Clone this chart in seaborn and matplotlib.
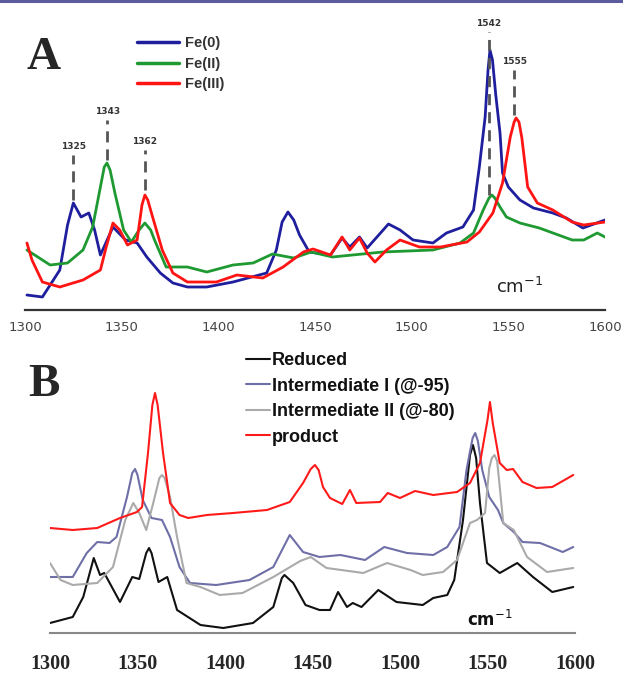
import numpy as np
import pandas as pd
import matplotlib
matplotlib.use("Agg")
import matplotlib.pyplot as plt
import seaborn as sns

# ---------------- Panel A data (wavenumber, intensity a.u.) ----------------
fe0_x = [1301, 1309, 1318, 1322, 1325, 1329, 1333, 1336, 1339, 1345.5, 1352, 1358, 1363, 1370, 1376.5,
         1384, 1394, 1407.6, 1425, 1430, 1433, 1436, 1439, 1442, 1447, 1458, 1464, 1468, 1473, 1477,
         1488, 1494, 1500.7, 1511, 1518, 1526.5, 1532, 1535, 1538, 1539.5, 1540.5, 1541.8, 1543.5, 1545.7, 1547,
         1550, 1556, 1563, 1573, 1580, 1588.6, 1600]
fe0_y = [15, 13, 40, 85, 107, 93, 97, 80, 55, 83, 70, 67, 53, 37, 27,
         23, 23, 28, 37, 60, 88, 98, 90, 75, 58, 55, 72, 63, 73, 62,
         86, 80, 70, 67, 77, 83, 100, 143, 193, 240, 260, 250, 215, 177, 137,
         123, 110, 102, 97, 92, 82, 90]

fe2_x = [1301, 1313, 1322, 1330, 1335, 1339, 1341, 1342.4, 1344, 1346.5, 1351, 1355, 1359, 1362, 1365, 1367, 1373,
         1384, 1394, 1407.6, 1418, 1428, 1439, 1448, 1459, 1485, 1511, 1525, 1532, 1537,
         1540, 1541.5, 1543, 1545.7, 1549, 1556, 1566, 1583, 1589, 1596, 1600]
fe2_y = [60, 45, 47, 60, 83, 123, 143, 147, 140, 117, 80, 68, 80, 87, 80, 70, 43,
         43, 38, 45, 47, 56, 52, 58, 53, 58, 60, 67, 77, 100,
         112, 115, 112, 103, 93, 87, 82, 70, 70, 77, 73]

fe3_x = [1301, 1303.6, 1309, 1318, 1330, 1339, 1342, 1345.5, 1349, 1353, 1358, 1360.5, 1362, 1363.5, 1366,
         1371, 1376.5, 1384, 1399, 1409.6, 1423, 1433.5, 1444, 1449, 1458, 1464, 1468,
         1473, 1477, 1481, 1487, 1494, 1504, 1515, 1528.6, 1535, 1542, 1547, 1551, 1553, 1554, 1555.5,
         1557, 1560, 1565, 1573, 1583, 1589, 1600]
fe3_y = [67, 50, 28, 23, 30, 40, 63, 87, 80, 65, 70, 105, 115, 110, 93,
         60, 37, 28, 28, 35, 32, 43, 58, 61, 55, 73, 60,
         72, 57, 48, 60, 70, 63, 63, 68, 78, 97, 127, 173, 188, 192, 188,
         172, 123, 107, 100, 88, 85, 88]

# peak annotations for panel A
peak_labels = ["1325", "1343", "1362", "1542", "1555"]
peak_pos = [1325, 1342.5, 1362, 1540, 1553]
peak_top = [155, 190, 160, 278, 240]
peak_bot = [110, 150, 120, 115, 195]

# ---------------- Panel B data ----------------
red_x = [1300, 1313, 1327, 1340, 1349.7, 1352.6, 1356, 1358.5, 1360, 1361.5, 1364.6, 1368.6, 1374, 1379,
         1389.7, 1404.6, 1424, 1437, 1444.6, 1449, 1451.4, 1453.5, 1456, 1460, 1467, 1471.4, 1475,
         1488.6, 1493, 1500, 1508.6, 1519, 1532.6, 1540, 1545.7, 1550, 1551.4, 1553,
         1557, 1561, 1564.6, 1570, 1578, 1587, 1599]
red_y = [105, 103, 105, 115, 121, 126, 180, 228, 240, 228, 180, 130, 118, 115,
         118, 120, 123, 131, 150, 164, 168, 163, 146, 135, 129, 143, 130,
         131, 140, 135, 142, 138, 141, 150, 170, 213, 231, 210,
         170, 163, 164, 151, 145, 146, 158]

int1_x = [1300, 1313, 1321, 1327, 1334, 1338, 1344, 1347, 1348.6, 1350, 1353, 1358, 1364, 1368.6, 1374,
          1380, 1395, 1414, 1427.6, 1437, 1444.6, 1454, 1466, 1480, 1491, 1504, 1519, 1527,
          1534, 1538, 1541.5, 1543, 1544.5, 1547, 1551, 1556, 1559, 1565, 1570, 1580, 1593, 1599]
int1_y = [56, 56, 80, 91, 90, 96, 136, 160, 164, 158, 133, 115, 113, 96, 66,
          50, 48, 53, 66, 98, 81, 76, 78, 73, 86, 80, 78, 86,
          106, 163, 195, 200, 192, 163, 136, 123, 110, 101, 91, 90, 81, 86]

int2_x = [1300, 1306, 1313, 1327, 1336, 1343, 1347.6, 1351, 1355, 1359, 1362.5, 1364, 1365.5, 1368.6, 1372.6,
          1378, 1386, 1397, 1410, 1427.6, 1443, 1449, 1458, 1479, 1492.6, 1506, 1513, 1524.6,
          1532.6, 1540, 1544, 1548.6, 1551, 1552.5, 1554, 1555.5, 1557, 1559, 1565, 1572.6, 1584, 1599]
int2_y = [70, 53, 48, 50, 66, 113, 130, 120, 103, 130, 155, 158, 155, 136, 96,
          50, 46, 38, 40, 56, 72, 76, 65, 60, 70, 63, 58, 61,
          73, 110, 113, 120, 165, 175, 178, 172, 146, 110, 103, 76, 61, 65]

red_b_x = [1300, 1313, 1319, 1325, 1328.6, 1331, 1340, 1347, 1351, 1355, 1356.6, 1358, 1362, 1367, 1372.6,
           1386, 1399, 1416, 1427.6, 1432.5, 1434, 1439, 1446, 1454, 1460, 1464.6, 1469.7, 1473,
           1478, 1487.6, 1498, 1513, 1519, 1527, 1531, 1536, 1540, 1541.7, 1543.5, 1545.7, 1549.7, 1557,
           1567, 1576, 1587, 1599]
red_b_y = [10, 16, 36, 75, 58, 60, 31, 56, 54, 80, 85, 80, 51, 56, 23,
           8, 5, 10, 26, 55, 58, 50, 28, 23, 23, 41, 26, 30,
           26, 43, 31, 28, 35, 38, 53, 113, 178, 188, 175, 130, 70, 60,
           70, 56, 41, 46]

ticks = [1300, 1350, 1400, 1450, 1500, 1550, 1600]

sns.set_style("white")

W, H = 623, 676
fig = plt.figure(figsize=(W / 100, H / 100), dpi=100)

def fx(px):
    return px / W

def fy(px):
    return 1 - px / H

# --------- Panel A ----------
axA = fig.add_axes([fx(25), fy(310), fx(605) - fx(25), fy(15) - fy(310)])
dfA = pd.concat([
    pd.DataFrame({"wn": fe0_x, "I": fe0_y, "s": "Fe(0)"}),
    pd.DataFrame({"wn": fe2_x, "I": fe2_y, "s": "Fe(II)"}),
    pd.DataFrame({"wn": fe3_x, "I": fe3_y, "s": "Fe(III)"}),
])
palA = {"Fe(0)": "#1f1f9e", "Fe(II)": "#1f9a32", "Fe(III)": "#ff1414"}
sns.lineplot(data=dfA, x="wn", y="I", hue="s", palette=palA, ax=axA, lw=2.0,
             sort=False, estimator=None)
axA.set_xlim(1300, 1600)
axA.set_ylim(0, 295)
for sp in ["top", "right", "left"]:
    axA.spines[sp].set_visible(False)
axA.spines["bottom"].set_color("#333333")
axA.spines["bottom"].set_linewidth(1.6)
axA.set_yticks([])
axA.set_xticks(ticks)
axA.tick_params(axis="x", direction="out", length=4, width=1.5, color="#333333",
                labelsize=9.5, labelcolor="#444444", pad=4)
axA.set_xlabel("")
axA.set_ylabel("")
for lab, p, t, b in zip(peak_labels, peak_pos, peak_top, peak_bot):
    axA.vlines(p, b, t, colors="#555555", linestyles=(0, (4, 2.5)), lw=2.0)
    axA.text(p, t + 4, lab, ha="center", va="bottom", fontsize=6.5,
             color="#333333", fontweight="bold")
axA.text(1556, 23, "cm$^{-1}$", ha="center", va="center", fontsize=13, color="#222222")
hA, lA = axA.get_legend_handles_labels()
legA = axA.legend(hA, lA, loc="upper left", bbox_to_anchor=(fx(124), fy(23)),
                  bbox_transform=fig.transFigure, frameon=False,
                  prop={"family": "Liberation Sans", "weight": "bold", "size": 10.5},
                  handlelength=2.9, handletextpad=0.4, labelspacing=0.45)
for t in legA.get_texts():
    t.set_color("#333333")
for h in legA.get_lines():
    h.set_linewidth(2.5)

# --------- Panel B ----------
axB = fig.add_axes([fx(50), fy(633), fx(575) - fx(50), fy(345) - fy(633)])
dfB = pd.concat([
    pd.DataFrame({"wn": red_b_x, "I": red_b_y, "s": "Reduced"}),
    pd.DataFrame({"wn": int1_x, "I": int1_y, "s": "Intermediate I (@-95)"}),
    pd.DataFrame({"wn": int2_x, "I": int2_y, "s": "Intermediate II (@-80)"}),
    pd.DataFrame({"wn": red_x, "I": red_y, "s": "product"}),
])
palB = {"Reduced": "#111111", "Intermediate I (@-95)": "#6f6fa8",
        "Intermediate II (@-80)": "#aaaaaa", "product": "#ff1a1a"}
sns.lineplot(data=dfB, x="wn", y="I", hue="s", palette=palB, ax=axB, lw=1.5,
             sort=False, estimator=None)
axB.set_xlim(1300, 1600)
axB.set_ylim(0, 288)
for sp in ["top", "right", "left"]:
    axB.spines[sp].set_visible(False)
axB.spines["bottom"].set_color("#888888")
axB.spines["bottom"].set_linewidth(1.5)
axB.set_yticks([])
axB.set_xticks(ticks)
axB.tick_params(axis="x", direction="out", length=6, width=1.5, color="#888888",
                labelsize=14.5, pad=9)
for t in axB.get_xticklabels():
    t.set_fontfamily("Liberation Serif")
    t.set_fontweight("bold")
axB.set_xlabel("")
axB.set_ylabel("")
axB.text(1551, 13, "cm$^{-1}$", ha="center", va="center", fontsize=12,
         fontweight="bold", color="#111111")
hB, lB = axB.get_legend_handles_labels()
legB = axB.legend(hB, lB, loc="upper left", bbox_to_anchor=(fx(230), fy(336)),
                  bbox_transform=fig.transFigure, frameon=False,
                  prop={"family": "Liberation Sans", "weight": "bold", "size": 13},
                  handlelength=1.3, handletextpad=0.12, labelspacing=0.47)
for t in legB.get_texts():
    t.set_color("#111111")

# panel letters
fig.text(fx(44), fy(58), "A", ha="center", va="center", fontsize=34,
         fontweight="bold", family="Liberation Serif")
fig.text(fx(44), fy(385), "B", ha="center", va="center", fontsize=34,
         fontweight="bold", family="Liberation Serif")

# top border line
fig.add_artist(plt.Line2D([0, 1], [fy(1), fy(1)], transform=fig.transFigure,
                          color="#5b5b9e", lw=2.2))

fig.savefig("out.png", dpi=100)
